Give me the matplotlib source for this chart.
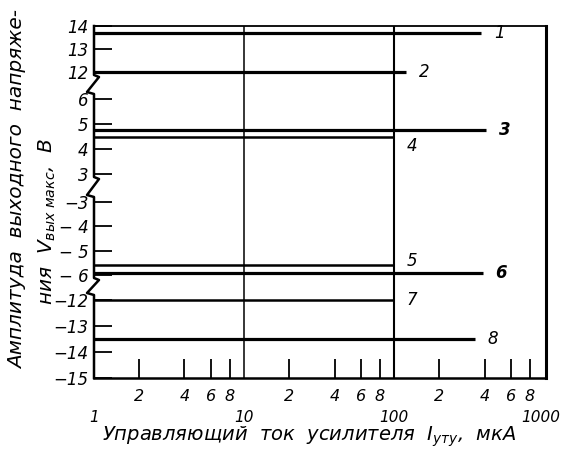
import numpy as np
import matplotlib.pyplot as plt
import matplotlib.transforms as mtransforms

plt.rcParams['font.family'] = ['DejaVu Sans']
plt.rcParams['font.style'] = 'italic'
plt.rcParams['mathtext.fontset'] = 'custom'
plt.rcParams['mathtext.it'] = 'DejaVu Sans:italic'
plt.rcParams['mathtext.rm'] = 'DejaVu Sans:italic'

# output voltage level of each curve, V
levels = [13.7, 12.0, 4.75, 4.5, -5.6, -5.9, -12.0, -13.5]
# control current where each curve ends, uA
x_end = [380, 120, 410, 100, 100, 390, 100, 345]
curve_names = ['1', '2', '3', '4', '5', '6', '7', '8']

ytick_vals = [14, 13, 12, 6, 5, 4, 3, -3, -4, -5, -6, -12, -13, -14, -15]
ytick_text = ['14', '13', '12', '6', '5', '4', '3', '−3', '− 4', '− 5',
              '− 6', '−12', '−13', '−14', '−15']

xmajor = [1, 10, 100, 1000]
xminor = [2, 4, 6, 8, 20, 40, 60, 80, 200, 400, 600, 800]

# broken y axis: value -> height (px) on the drawing
break_vals = [-40, -15, -12, -6, -3, 3, 6, 12, 14, 40]
break_pos = [-650, 0, 78, 103, 176, 204, 279, 306, 352, 937]
gaps = [(6, 12), (-3, 3), (-12, -6)]


def fwd(v):
    return np.interp(v, break_vals, break_pos)


def inv(p):
    return np.interp(p, break_pos, break_vals)


fig = plt.figure(figsize=(5.63, 4.53), dpi=100)
ax = fig.add_axes([94 / 563, 1 - 378 / 453, 452 / 563, 352 / 453])
ax.set_xscale('log')
ax.set_yscale('function', functions=(fwd, inv))
ax.set_xlim(1, 1025)
ax.set_ylim(-15, 14)

# grid lines at 10 and 100
ax.axvline(10, color='black', lw=1.1)
ax.axvline(100, color='black', lw=1.5)

thin = {'4', '5', '7'}
label_dy = {'4': -7, '5': 3, '7': 0}
for lev, xe, name in zip(levels, x_end, curve_names):
    lw = 1.8 if name in thin else 2.3
    ax.plot([1, xe], [lev, lev], color='black', lw=lw, solid_capstyle='butt')
    ax.annotate(name, (xe, lev), xytext=(9, label_dy.get(name, 0)),
                textcoords='offset points', ha='left', va='center',
                fontsize=12, fontweight='bold' if name in ('3', '6') else 'normal')

# spines
ax.spines['left'].set_visible(False)
ax.spines['top'].set_linewidth(1.3)
ax.spines['bottom'].set_linewidth(1.8)
ax.spines['right'].set_linewidth(2.2)

# left axis with break marks
trans = mtransforms.blended_transform_factory(ax.transAxes, ax.transData)
px = 1 / 452
xs = [0]
ys = [14]
for lo, hi in sorted(gaps, reverse=True):
    ph, pl = fwd(hi), fwd(lo)
    xs += [0, 5 * px, -7 * px, 0]
    ys += [inv(ph - 3), inv(ph - 5), inv(pl + 7), inv(pl + 5)]
xs.append(0)
ys.append(-15)
ax.plot(xs, ys, color='black', lw=1.8, transform=trans, clip_on=False)

# ticks
ax.set_yticks(ytick_vals)
ax.set_yticklabels(ytick_text)
ax.yaxis.set_minor_locator(plt.NullLocator())
ax.tick_params(axis='y', direction='in', length=13, width=1.3, pad=4, labelsize=12)

ax.set_xticks(xmajor)
ax.set_xticklabels(['1', '10', '100', '1000'])
ax.set_xticks(xminor, minor=True)
ax.set_xticklabels(['2', '4', '6', '8'] * 3, minor=True)
ax.tick_params(axis='x', which='major', length=0, pad=23, labelsize=11)
ax.tick_params(axis='x', which='minor', direction='in', length=14, width=1.3,
               pad=8, labelsize=11.5)
# keep the last label inside the figure
last = ax.get_xticklabels()[-1]
last.set_transform(last.get_transform() +
                   mtransforms.ScaledTranslation(-4 / 100, 0, fig.dpi_scale_trans))

ax.set_xlabel('Управляющий  ток  усилителя  $I_{уту}$,  мкА', fontsize=14)
ax.xaxis.set_label_coords(0.475, -0.168)
ax.xaxis.label.set_va('center')

fig.text(18 / 563, 1 - 190 / 453, 'Амплитуда  выходного  напряже-', rotation=90,
         ha='center', va='center', fontsize=14.5)
fig.text(47 / 563, 1 - 221 / 453, 'ния  $V_{вых\\ макс}$,  В', rotation=90,
         ha='center', va='center', fontsize=14.5)

fig.savefig('out.png', dpi=100)
